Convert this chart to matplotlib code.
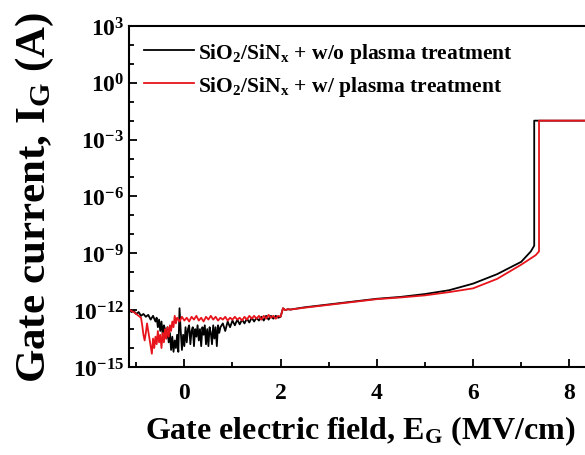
import matplotlib
matplotlib.use('Agg')
import matplotlib.pyplot as plt
import numpy as np
from matplotlib.ticker import FixedLocator, FuncFormatter, MultipleLocator, NullFormatter

plt.rcParams['font.family'] = 'Liberation Serif'
plt.rcParams['font.weight'] = 'bold'
plt.rcParams['mathtext.fontset'] = 'custom'
plt.rcParams['mathtext.rm'] = 'Liberation Serif:bold'
plt.rcParams['mathtext.bf'] = 'Liberation Serif:bold'
plt.rcParams['mathtext.it'] = 'Liberation Serif:bold'
plt.rcParams['mathtext.default'] = 'rm'

# Gate electric field (MV/cm) and log10 of gate current (A)
# --- w/o plasma treatment (black) ---
x_wo_start = [-1.15, -1.1, -1.05, -1.0, -0.95, -0.9, -0.85, -0.8, -0.75, -0.7, -0.65]
logi_wo_start = [-11.95, -12.1, -12.05, -12.2, -12.1, -12.3, -12.2, -12.35, -12.25,
                 -12.5, -12.3]
x_wo_noise = [-0.6, -0.575, -0.55, -0.525, -0.5, -0.475, -0.45, -0.425, -0.4, -0.375,
              -0.35, -0.325, -0.3, -0.275, -0.25, -0.225, -0.2, -0.175, -0.15, -0.125,
              -0.1, -0.075, -0.05, -0.025, 0.0, 0.025, 0.05, 0.075, 0.1, 0.125, 0.15,
              0.175, 0.2, 0.225, 0.25, 0.275, 0.3, 0.325, 0.35, 0.375, 0.4, 0.425,
              0.45, 0.475, 0.5, 0.525, 0.55, 0.575, 0.6, 0.625, 0.65, 0.675, 0.7,
              0.725, 0.75]
logi_wo_noise = [-12.6, -12.4, -12.9, -12.5, -13.1, -12.6, -13.3, -12.8, -13.0, -13.5,
                 -12.9, -13.7, -13.2, -14.1, -13.4, -14.2, -13.6, -14.0, -13.3, -14.2,
                 -11.9, -13.1, -14.1, -13.3, -13.9, -12.9, -13.7, -13.0, -12.8, -13.8,
                 -13.1, -12.9, -13.9, -13.0, -13.4, -12.8, -13.6, -13.0, -13.9, -12.9,
                 -13.3, -12.8, -13.8, -13.0, -13.9, -12.9, -13.2, -13.8, -12.8, -13.5,
                 -12.9, -13.9, -12.8, -13.2, -12.9]
x_wo_mid = [0.8, 0.85, 0.9, 0.95, 1.0, 1.05, 1.1, 1.15, 1.2, 1.25, 1.3, 1.35, 1.4,
            1.45, 1.5, 1.55, 1.6, 1.65, 1.7, 1.75, 1.8, 1.85, 1.9, 1.95, 2.0, 2.05,
            2.1, 2.15]
logi_wo_mid = [-12.7, -13.1, -12.6, -12.9, -12.55, -12.8, -12.5, -12.75, -12.5, -12.7,
               -12.45, -12.65, -12.4, -12.6, -12.4, -12.55, -12.35, -12.55, -12.3,
               -12.5, -12.3, -12.45, -12.3, -12.4, -12.35, -11.9, -12.0, -11.95]
x_wo_rise = [2.2, 2.5, 3.0, 3.5, 4.0, 4.5, 5.0, 5.5, 6.0, 6.5, 7.0, 7.2, 7.27, 7.27, 9.5]
logi_wo_rise = [-11.97, -11.85, -11.7, -11.55, -11.4, -11.3, -11.15, -10.95, -10.6,
                -10.1, -9.45, -8.9, -8.6, -2.0, -2.0]

# --- w/ plasma treatment (red) ---
x_w_start = [-1.15, -1.1, -1.05, -1.0, -0.95]
logi_w_start = [-11.95, -12.05, -12.1, -12.2, -12.3]
x_w_noise = [-0.9, -0.875, -0.85, -0.825, -0.8, -0.775, -0.75, -0.725, -0.7, -0.675,
             -0.65, -0.625, -0.6, -0.575, -0.55, -0.525, -0.5, -0.475, -0.45, -0.425,
             -0.4, -0.375, -0.35, -0.325, -0.3, -0.275, -0.25, -0.225, -0.2, -0.175,
             -0.15]
logi_w_noise = [-12.4, -12.8, -13.3, -13.6, -13.2, -12.7, -13.1, -13.5, -13.9, -14.3,
                -13.5, -14.0, -13.4, -13.8, -13.1, -13.7, -13.3, -14.0, -13.2, -13.7,
                -13.0, -13.5, -12.9, -13.4, -12.8, -13.1, -12.6, -12.9, -12.3, -12.7,
                -12.4]
x_w_mid = [-0.1, -0.05, 0.0, 0.05, 0.1, 0.15, 0.2, 0.25, 0.3, 0.35, 0.4, 0.45, 0.5,
           0.55, 0.6, 0.65, 0.7, 0.75, 0.8, 0.85, 0.9, 0.95, 1.0, 1.05, 1.1, 1.15,
           1.2, 1.25, 1.3, 1.35, 1.4, 1.45, 1.5, 1.55, 1.6, 1.65, 1.7, 1.75, 1.8,
           1.85, 1.9, 1.95, 2.0, 2.05, 2.1, 2.15]
logi_w_mid = [-12.6, -12.35, -12.55, -12.4, -12.6, -12.35, -12.5, -12.3, -12.55, -12.4,
              -12.6, -12.35, -12.5, -12.3, -12.5, -12.35, -12.55, -12.4, -12.5, -12.35,
              -12.55, -12.4, -12.5, -12.35, -12.5, -12.4, -12.55, -12.35, -12.5, -12.3,
              -12.45, -12.3, -12.45, -12.3, -12.5, -12.3, -12.45, -12.25, -12.4, -12.3,
              -12.45, -12.3, -12.35, -11.9, -12.0, -11.95]
x_w_rise = [2.2, 2.5, 3.0, 3.5, 4.0, 4.5, 5.0, 5.5, 6.0, 6.5, 7.0, 7.3, 7.37, 7.37, 9.5]
logi_w_rise = [-11.97, -11.87, -11.72, -11.57, -11.42, -11.33, -11.22, -11.05, -10.85,
               -10.35, -9.6, -9.1, -8.9, -2.0, -2.0]

x_wo = x_wo_start + x_wo_noise + x_wo_mid + x_wo_rise
logi_wo = logi_wo_start + logi_wo_noise + logi_wo_mid + logi_wo_rise
x_w = x_w_start + x_w_noise + x_w_mid + x_w_rise
logi_w = logi_w_start + logi_w_noise + logi_w_mid + logi_w_rise

labels = [r'SiO$_2$/SiN$_x$ + w/o plasma treatment',
          r'SiO$_2$/SiN$_x$ + w/ plasma treatment']
colors = ['black', '#e8141c']

fig = plt.figure(figsize=(5.85, 4.56), dpi=100)
ax = fig.add_axes([0.2205, 0.193, 0.835, 0.748])

ax.plot(x_wo, 10.0 ** np.array(logi_wo), color=colors[0], lw=1.3, label=labels[0])
ax.plot(x_w, 10.0 ** np.array(logi_w), color=colors[1], lw=1.3, label=labels[1])

ax.set_yscale('log')
ax.set_ylim(1e-15, 1e3)
ax.set_xlim(-1.15, 9.0)

ax.yaxis.set_major_locator(FixedLocator([10.0 ** k for k in range(-15, 4, 3)]))
ax.yaxis.set_minor_locator(FixedLocator([10.0 ** k for k in range(-15, 4)]))
ax.yaxis.set_major_formatter(FuncFormatter(
    lambda v, p: r'$\mathbf{10^{%d}}$' % round(np.log10(v))))
ax.yaxis.set_minor_formatter(NullFormatter())
ax.xaxis.set_major_locator(MultipleLocator(2))
ax.xaxis.set_minor_locator(MultipleLocator(1))

ax.tick_params(which='both', direction='in', width=1.3, labelsize=17)
ax.tick_params(which='major', length=6)
ax.tick_params(which='minor', length=3.5)
ax.tick_params(axis='x', pad=11)
for s in ax.spines.values():
    s.set_linewidth(1.5)

ax.set_xlabel(r'Gate electric field, E$_G$ (MV/cm)', fontsize=23,
              fontweight='bold')
ax.set_ylabel(r'Gate current, I$_G$ (A)', fontsize=31, fontweight='bold',
              labelpad=12)
# the axes box runs past the right edge, so centre the x label on the visible part
ax.xaxis.set_label_coords(0.473, -0.135)
ax.xaxis.label.set_va('top')

ax.legend(loc='upper left', frameon=False, handlelength=2.3,
          labelspacing=0.42, borderaxespad=0.3, handletextpad=0.2,
          prop={'family': 'Liberation Serif', 'weight': 'bold', 'size': 15.5})

fig.savefig('out.png', dpi=100)
